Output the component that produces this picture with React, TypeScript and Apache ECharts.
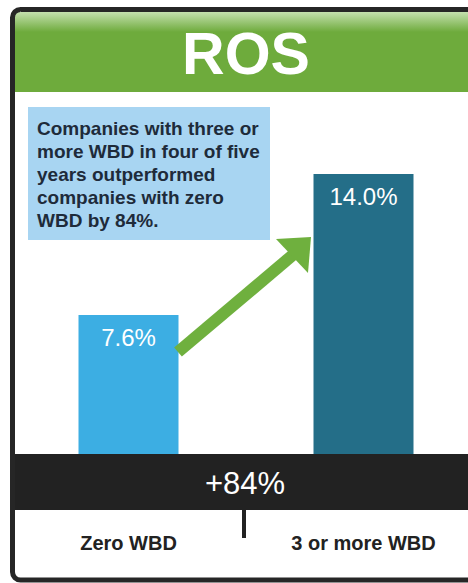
import React, { useEffect, useRef } from "react";
import * as echarts from "echarts";

const categories = ["Zero WBD", "3 or more WBD"];
const rosValues = [7.6, 14.0];
const barColors = ["#3caee3", "#246e88"];
const titleText = "ROS";
const changeText = "+84%";
const noteLines = [
  "Companies with three or",
  "more WBD in four of five",
  "years outperformed",
  "companies with zero",
  "WBD by 84%.",
];

const FONT = '"Liberation Sans", Arial, Helvetica, sans-serif';

export default function App() {
  const ref = useRef<HTMLDivElement>(null);
  useEffect(() => {
    if (!ref.current) return;
    const chart = echarts.init(ref.current, undefined, { renderer: "svg" });
    const green = "#6eab3c";
    chart.setOption({
      animation: false,
      backgroundColor: "#ffffff",
      grid: { left: 11, width: 470, top: 174, bottom: 129, outerBoundsMode: "none", containLabel: false },
      xAxis: {
        type: "category",
        data: categories,
        axisLine: { show: false },
        axisTick: { show: false },
        axisLabel: {
          margin: 79,
          color: "#222222",
          fontSize: 20,
          fontWeight: "bold",
          fontFamily: FONT,
          formatter: (v: string) => v,
        },
      },
      yAxis: {
        type: "value",
        min: 1.3,
        max: 14,
        show: false,
        splitLine: { show: false },
      },
      series: [
        {
          type: "bar",
          barWidth: 100,
          data: rosValues.map((v, i) => ({ value: v, itemStyle: { color: barColors[i] } })),
          label: {
            show: true,
            position: "insideTop",
            distance: 10,
            color: "#ffffff",
            fontSize: 24,
            fontFamily: FONT,
            formatter: (p: any) => Number(p.value).toFixed(1) + "%",
          },
          z: 2,
        },
      ],
      graphic: [
        {
          type: "rect",
          z: 1,
          shape: { x: 15, y: 12, width: 470, height: 80 },
          style: {
            fill: new echarts.graphic.LinearGradient(0, 0, 0, 1, [
              { offset: 0, color: "#c4e0ae" },
              { offset: 0.25, color: green },
              { offset: 1, color: green },
            ]),
          },
        },
        {
          type: "text",
          z: 5,
          x: 246,
          y: 54,
          style: {
            text: titleText,
            fill: "#ffffff",
            font: `bold 59px ${FONT}`,
            align: "center",
            verticalAlign: "middle",
          },
        },
        {
          type: "rect",
          z: 1,
          shape: { x: 28, y: 107, width: 242, height: 133 },
          style: { fill: "#a8d5f2" },
        },
        {
          type: "text",
          z: 5,
          x: 37,
          y: 117,
          style: {
            text: noteLines.join("\n"),
            fill: "#1e2b3a",
            font: `bold 19px ${FONT}`,
            lineHeight: 23,
            align: "left",
            verticalAlign: "top",
          },
        },
        {
          type: "rect",
          z: 10,
          shape: { x: 15, y: 454, width: 470, height: 56 },
          style: { fill: "#222222" },
        },
        {
          type: "text",
          z: 11,
          x: 245,
          y: 483,
          style: {
            text: changeText,
            fill: "#ffffff",
            font: `31px ${FONT}`,
            align: "center",
            verticalAlign: "middle",
          },
        },
        {
          type: "rect",
          z: 10,
          shape: { x: 242, y: 510, width: 4, height: 28 },
          style: { fill: "#222222" },
        },
        {
          type: "line",
          z: 12,
          shape: { x1: 178, y1: 352, x2: 294, y2: 254 },
          style: { stroke: "#6fb03e", lineWidth: 12 },
        },
        {
          type: "polygon",
          z: 12,
          shape: { points: [[276, 239], [311, 237], [308, 273]] },
          style: { fill: "#6fb03e" },
        },
        {
          type: "rect",
          z: 20,
          shape: { x: 12.5, y: 9.5, width: 480, height: 570.5, r: 8 },
          style: { fill: "none", stroke: "#262626", lineWidth: 5 },
        },
      ],
    });
    return () => chart.dispose();
  }, []);
  return (
    <div
      ref={ref}
      style={{ position: "fixed", left: 0, top: 0, width: 468, height: 583, background: "#fff" }}
    />
  );
}
